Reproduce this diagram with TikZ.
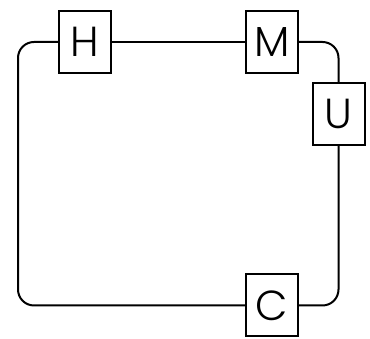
\documentclass[tikz,border=0pt]{standalone}
\usepackage{fontspec}
\setmainfont{Poppins Light}
\begin{document}
\begin{tikzpicture}[x=1pt,y=1pt,
  box/.style={draw, line width=2pt, fill=white, minimum width=52pt, minimum height=62pt, inner sep=0pt, font=\fontsize{42}{42}\selectfont},
  wire/.style={line width=2pt, rounded corners=16pt}]
\useasboundingbox (0,0) rectangle (370,339);
\node[box] (H) at (85,297) {H};
\node[box] (M) at (272,297) {M};
\node[box] (U) at (338.5,225) {U};
\node[box] (C) at (272,33.5) {C};
\coordinate (tl) at (18,297);
\coordinate (bl) at (18,33.5);
\coordinate (br) at (338.5,33.5);
\coordinate (tr) at (338.5,297);
\draw[wire] (H.west) -- (tl) -- (bl) -- (C.west);
\draw[wire] (C.east) -- (br) -- (U.south);
\draw[wire] (U.north) -- (tr) -- (M.east);
\draw[wire] (M.west) -- (H.east);
\end{tikzpicture}
\end{document}
